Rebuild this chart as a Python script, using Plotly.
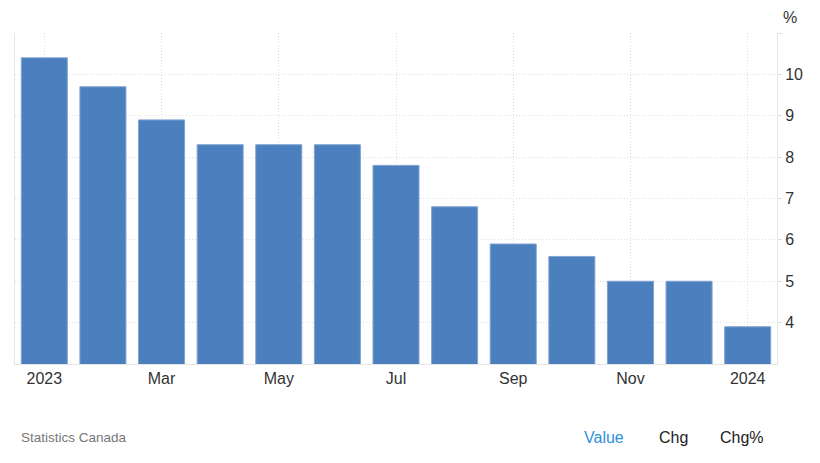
import plotly.graph_objects as go

months = ["2023-01", "2023-02", "2023-03", "2023-04", "2023-05", "2023-06", "2023-07",
          "2023-08", "2023-09", "2023-10", "2023-11", "2023-12", "2024-01"]
values = [10.4, 9.7, 8.9, 8.3, 8.3, 8.3, 7.8, 6.8, 5.9, 5.6, 5.0, 5.0, 3.9]
x_tick_vals = ["2023-01", "2023-03", "2023-05", "2023-07", "2023-09", "2023-11", "2024-01"]
x_tick_text = ["2023", "Mar", "May", "Jul", "Sep", "Nov", "2024"]
y_tick_vals = [4, 5, 6, 7, 8, 9, 10, 11]
y_tick_text = ["4", "5", "6", "7", "8", "9", "10", ""]

FONT = "Liberation Sans, Arial, sans-serif"
GRID = "#dedede"
LINE = "#e6e6e6"

fig = go.Figure(go.Bar(
    x=months, y=values,
    marker=dict(color="#4b7fbd", line=dict(color="#7fa4d2", width=1)),
))

fig.update_layout(
    width=820, height=463,
    margin=dict(l=7, r=51, t=25, b=107),
    paper_bgcolor="white", plot_bgcolor="white",
    bargap=0.215,
    showlegend=False,
    font=dict(family=FONT, size=16, color="#333333"),
    xaxis=dict(
        type="category",
        tickmode="array", tickvals=x_tick_vals, ticktext=x_tick_text,
        showgrid=True, gridcolor=GRID, griddash="1px,2px", gridwidth=1,
        showline=True, linecolor=LINE, linewidth=1,
        ticks="", tickfont=dict(size=16, color="#333333"),
    ),
    yaxis=dict(
        side="right", range=[3, 11],
        tickmode="array", tickvals=y_tick_vals, ticktext=y_tick_text,
        showgrid=True, gridcolor=GRID, griddash="1px,2px", gridwidth=1,
        showline=True, mirror=True, linecolor=LINE, linewidth=1,
        ticks="outside", ticklen=4, tickcolor=GRID,
        zeroline=False,
        tickfont=dict(size=16, color="#333333"),
    ),
    annotations=[
        dict(text="%", xref="paper", yref="paper", x=1.0052, y=1.0, yshift=16,
             xanchor="left", yanchor="middle", showarrow=False,
             font=dict(size=16, color="#333333")),
        dict(text="Statistics Canada", xref="paper", yref="paper", x=0, xshift=4,
             y=0, yshift=-73, xanchor="left", yanchor="middle", showarrow=False,
             font=dict(size=13.5, color="#777777")),
        dict(text="Value", xref="paper", yref="paper", x=0.7445, y=0, yshift=-73,
             xanchor="left", yanchor="middle", showarrow=False,
             font=dict(size=16, color="#2e8fda")),
        dict(text="Chg", xref="paper", yref="paper", x=0.8425, y=0, yshift=-73,
             xanchor="left", yanchor="middle", showarrow=False,
             font=dict(size=16, color="#222222")),
        dict(text="Chg%", xref="paper", yref="paper", x=0.9226, y=0, yshift=-73,
             xanchor="left", yanchor="middle", showarrow=False,
             font=dict(size=16, color="#222222")),
    ],
    shapes=[
        dict(type="line", xref="paper", yref="paper", x0=1.0472, x1=1.0472,
             y0=-0.3, y1=1.08, line=dict(color="#ececec", width=1)),
    ],
)

fig.write_html("out.html")
